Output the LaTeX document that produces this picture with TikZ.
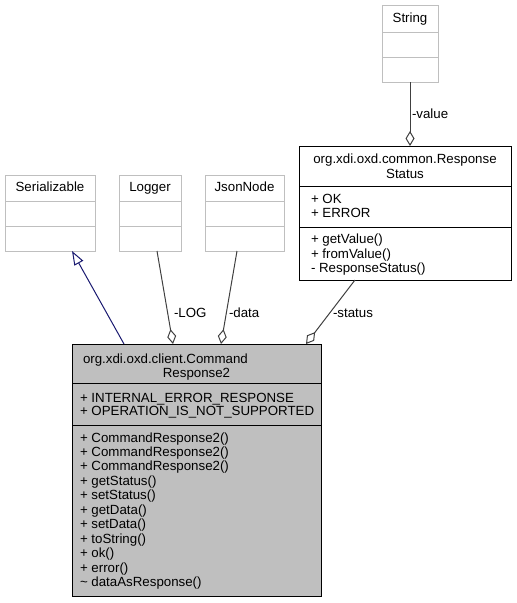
\documentclass[tikz,border=0pt]{standalone}
\usepackage{fontspec}
\setmainfont{Liberation Sans}
\usetikzlibrary{arrows.meta,calc}
\definecolor{lgray}{HTML}{BFBFBF}
\definecolor{boxgray}{HTML}{BFBFBF}
\definecolor{edgegray}{HTML}{404040}
\definecolor{navyline}{HTML}{191970}
\begin{document}
\begin{tikzpicture}[x=1pt,y=-1pt,
  every node/.style={font=\fontsize{13.3}{14.4}\selectfont, inner sep=0pt, outer sep=0pt},
  lbox/.style={draw=lgray, fill=white, line width=1pt, anchor=north west},
  bbox/.style={draw=black, fill=white, line width=1pt, anchor=north west},
  gbox/.style={draw=black, fill=boxgray, line width=1pt, anchor=north west},
  lsep/.style={draw=lgray, line width=1pt},
  bsep/.style={draw=black, line width=1pt},
  txt/.style={anchor=base west},
  ctxt/.style={anchor=base},
  agg/.style={draw=edgegray, line width=1pt, {Diamond[open,fill=white,length=15pt,width=9pt]}-},
  gen/.style={draw=navyline, line width=1pt, -{Triangle[open,fill=white,length=14pt,width=10pt]}},
]
\useasboundingbox (0,0) rectangle (517,603);

% ---- light (external) classes ----
\node[lbox, minimum width=90pt, minimum height=76pt] (ser) at (5,175) {};
\draw[lsep] ($(ser.north west)+(0,26)$) -- ($(ser.north east)+(0,26)$);
\draw[lsep] ($(ser.north west)+(0,51)$) -- ($(ser.north east)+(0,51)$);
\node[ctxt] (sert) at (50,191) {Serializable};

\node[lbox, minimum width=62pt, minimum height=76pt] (log) at (119,175) {};
\draw[lsep] ($(log.north west)+(0,26)$) -- ($(log.north east)+(0,26)$);
\draw[lsep] ($(log.north west)+(0,51)$) -- ($(log.north east)+(0,51)$);
\node[ctxt] (logt) at (150,191) {Logger};

\node[lbox, minimum width=79pt, minimum height=76pt] (json) at (205,175) {};
\draw[lsep] ($(json.north west)+(0,26)$) -- ($(json.north east)+(0,26)$);
\draw[lsep] ($(json.north west)+(0,51)$) -- ($(json.north east)+(0,51)$);
\node[ctxt] (jsont) at (244.5,191) {JsonNode};

\node[lbox, minimum width=56pt, minimum height=77pt] (str) at (382,5) {};
\draw[lsep] ($(str.north west)+(0,27)$) -- ($(str.north east)+(0,27)$);
\draw[lsep] ($(str.north west)+(0,52)$) -- ($(str.north east)+(0,52)$);
\node[ctxt] (strt) at (410,22) {String};

% ---- ResponseStatus ----
\node[bbox, minimum width=212pt, minimum height=134pt] (rs) at (299,146) {};
\draw[bsep] ($(rs.north west)+(0,40)$) -- ($(rs.north east)+(0,40)$);
\draw[bsep] ($(rs.north west)+(0,81)$) -- ($(rs.north east)+(0,81)$);
\node[ctxt] (rst1) at (405,163) {org.xdi.oxd.common.Response};
\node[ctxt] (rst2) at (405,178) {Status};
\node[txt] (rsa1) at (311,203) {+ OK};
\node[txt] (rsa2) at (311,217) {+ ERROR};
\node[txt] (rsm1) at (311,243) {+ getValue()};
\node[txt] (rsm2) at (311,258) {+ fromValue()};
\node[txt] (rsm3) at (311,272) {- ResponseStatus()};

% ---- CommandResponse2 ----
\node[gbox, minimum width=249pt, minimum height=252pt] (main) at (72,344) {};
\draw[bsep] ($(main.north west)+(0,39)$) -- ($(main.north east)+(0,39)$);
\draw[bsep] ($(main.north west)+(0,81)$) -- ($(main.north east)+(0,81)$);
\node[txt] (mt1) at (83,363) {org.xdi.oxd.client.Command};
\node[ctxt] (mt2) at (196.5,377) {Response2};
\node[txt] (ma1) at (80,402) {+ INTERNAL\_ERROR\_RESPONSE};
\node[txt] (ma2) at (80,415) {+ OPERATION\_IS\_NOT\_SUPPORTED};
\foreach \t [count=\i from 0] in {%
  + CommandResponse2(),+ CommandResponse2(),+ CommandResponse2(),%
  + getStatus(),+ setStatus(),+ getData(),+ setData(),+ toString(),%
  + ok(),+ error(),\textasciitilde{} dataAsResponse()}{
  \node[txt] (mm\i) at (80,{442+14.45*\i}) {\t};
}

% ---- connectors ----
\draw[gen] ($(main.north west)+(52,0)$) -- ($(ser.south west)+(67,0)$);
\draw[agg] ($(main.north west)+(101,0)$) -- ($(log.south west)+(38,0)$);
\draw[agg] ($(main.north west)+(149,0)$) -- ($(json.south west)+(32,0)$);
\draw[agg] ($(rs.north west)+(111,0)$) -- ($(str.south west)+(28,0)$);
\draw[agg] ($(main.north west)+(234,0)$) -- ($(rs.south west)+(56,0)$);

% ---- labels ----
\node[txt] (llog) at (174,317) {-LOG};
\node[txt] (ldata) at (229,317) {-data};
\node[txt] (lval) at (412,118) {-value};
\node[txt] (lstat) at (333,317) {-status};
\end{tikzpicture}
\end{document}
